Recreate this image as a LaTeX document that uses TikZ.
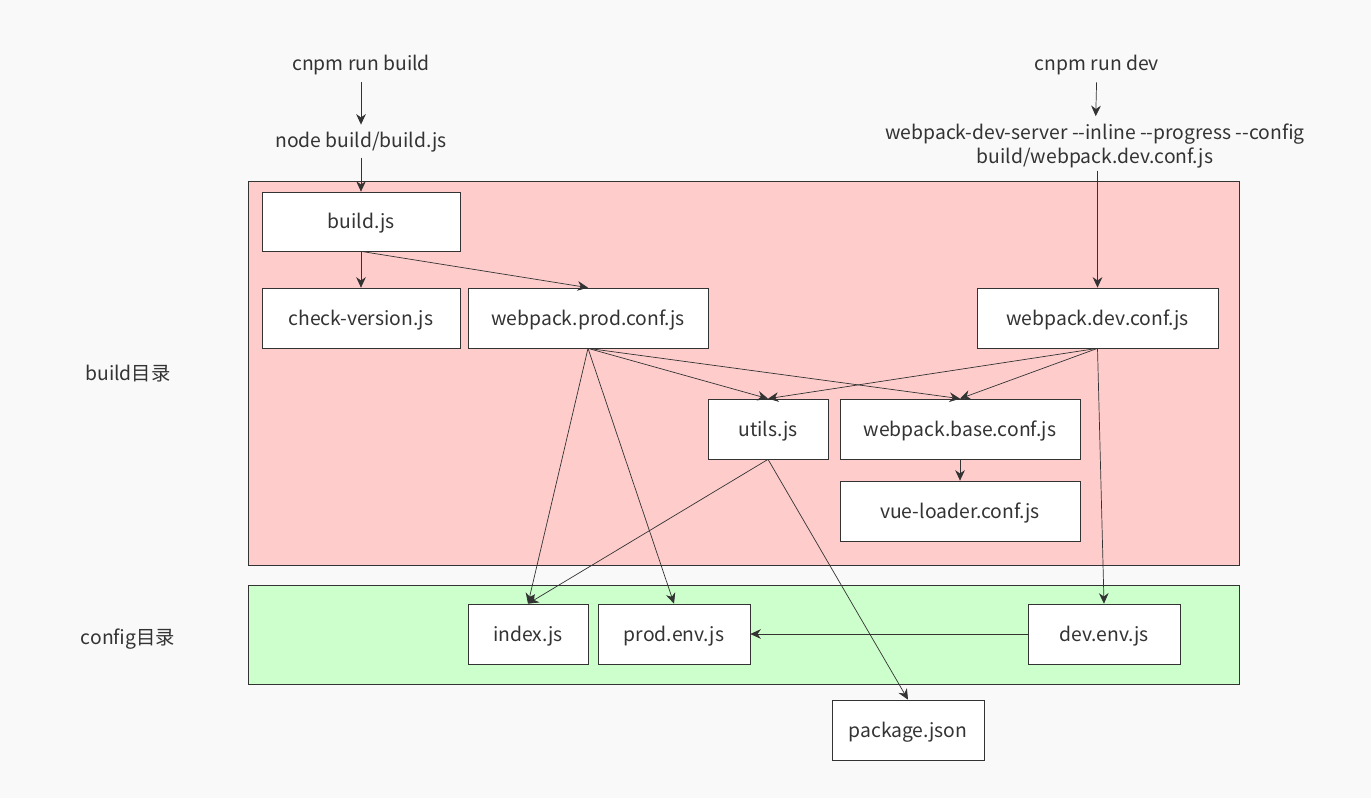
\documentclass[tikz,border=0pt]{standalone}
\usepackage{fontspec}
\setmainfont{Noto Sans CJK SC}
\usetikzlibrary{arrows.meta,positioning}
\definecolor{bgc}{HTML}{F9F9F9}
\definecolor{linec}{HTML}{333333}
\definecolor{buildc}{HTML}{FFCCCC}
\definecolor{configc}{HTML}{CCFFCC}
\tikzset{
  box/.style={draw=linec,fill=white,inner sep=0pt,minimum height=1.2cm,text=linec,
    text height=1.0em,text depth=0.2em,font=\fontsize{11}{14}\selectfont},
  txt/.style={inner sep=1pt,font=\fontsize{11}{14}\selectfont,text=linec},
  arr/.style={-{Stealth[length=6pt,width=5.5pt]},linec,thin},
}
\begin{document}
\begin{tikzpicture}[x=0.02cm,y=-0.02cm]
      % Background
      \fill[bgc] (0,0) rectangle (1371,798);
      \useasboundingbox (0,0) rectangle (1371,798);
      % Regions
      \draw[linec,fill=buildc] (248,181) rectangle (1239,565);
      \draw[linec,fill=configc] (248,585) rectangle (1239,684);
      \node[txt] (buildlbl) at (128,374) {build目录};
      \node[txt] (configlbl) at (128,639) {config目录};
      % Commands
      \node[txt] (cmdbuild) at (361,65) {cnpm run build};
      \node[txt] (nodebuild) at (361,142) {node build/build.js};
      \node[txt] (cmddev) at (1097,65) {cnpm run dev};
      \node[txt,align=center] (devserver) at (1095,146) {webpack-dev-server -{}-inline -{}-progress -{}-config\\build/webpack.dev.conf.js};
      % Files
      \node[box,minimum width=3.96cm,minimum height=1.18cm] (buildjs) at (361,221.5) {build.js};
      \node[box,minimum width=3.96cm] (checkver) at (361,318) {check-version.js};
      \node[box,minimum width=4.8cm] (prodconf) at (588,318) {webpack.prod.conf.js};
      \node[box,minimum width=4.82cm] (devconf) at (1097.5,318) {webpack.dev.conf.js};
      \node[box,minimum width=2.4cm] (utils) at (768,429) {utils.js};
      \node[box,minimum width=4.8cm] (baseconf) at (960,429) {webpack.base.conf.js};
      \node[box,minimum width=4.8cm] (vueloader) at (960,511) {vue-loader.conf.js};
      \node[box,minimum width=2.4cm] (index) at (528,634) {index.js};
      \node[box,minimum width=3.04cm] (prodenv) at (674,634) {prod.env.js};
      \node[box,minimum width=3.04cm] (devenv) at (1104,634) {dev.env.js};
      \node[box,minimum width=3.04cm] (pkg) at (908,730) {package.json};
      % Connectors
      \draw[arr,shorten <=3pt,shorten >=3pt] (cmdbuild) -- (nodebuild);
      \draw[arr,shorten <=3pt,shorten >=3pt] (cmddev) -- (devserver);
      \draw[arr,shorten <=2pt] (nodebuild) -- (buildjs);
      \draw[arr] (devserver.south -| devconf.north) -- (devconf.north);
      \draw[arr] (buildjs.south) -- (checkver.north);
      \draw[arr] (buildjs.south) -- (prodconf.north);
      \foreach \t in {utils,baseconf,index,prodenv}
        \draw[arr] (prodconf.south) -- (\t.north);
      \draw[arr] (devconf.south) -- (utils.north);
      \draw[arr] (devconf.south) -- (baseconf.north);
      \draw[arr] (devconf.south) -- (devenv.north);
      \draw[arr] (baseconf.south) -- (vueloader.north);
      \draw[arr] (utils.south) -- (index.north);
      \draw[arr] (utils.south) -- (pkg.north);
      \draw[arr] (devenv.west) -- (prodenv.east);
\end{tikzpicture}
\end{document}
